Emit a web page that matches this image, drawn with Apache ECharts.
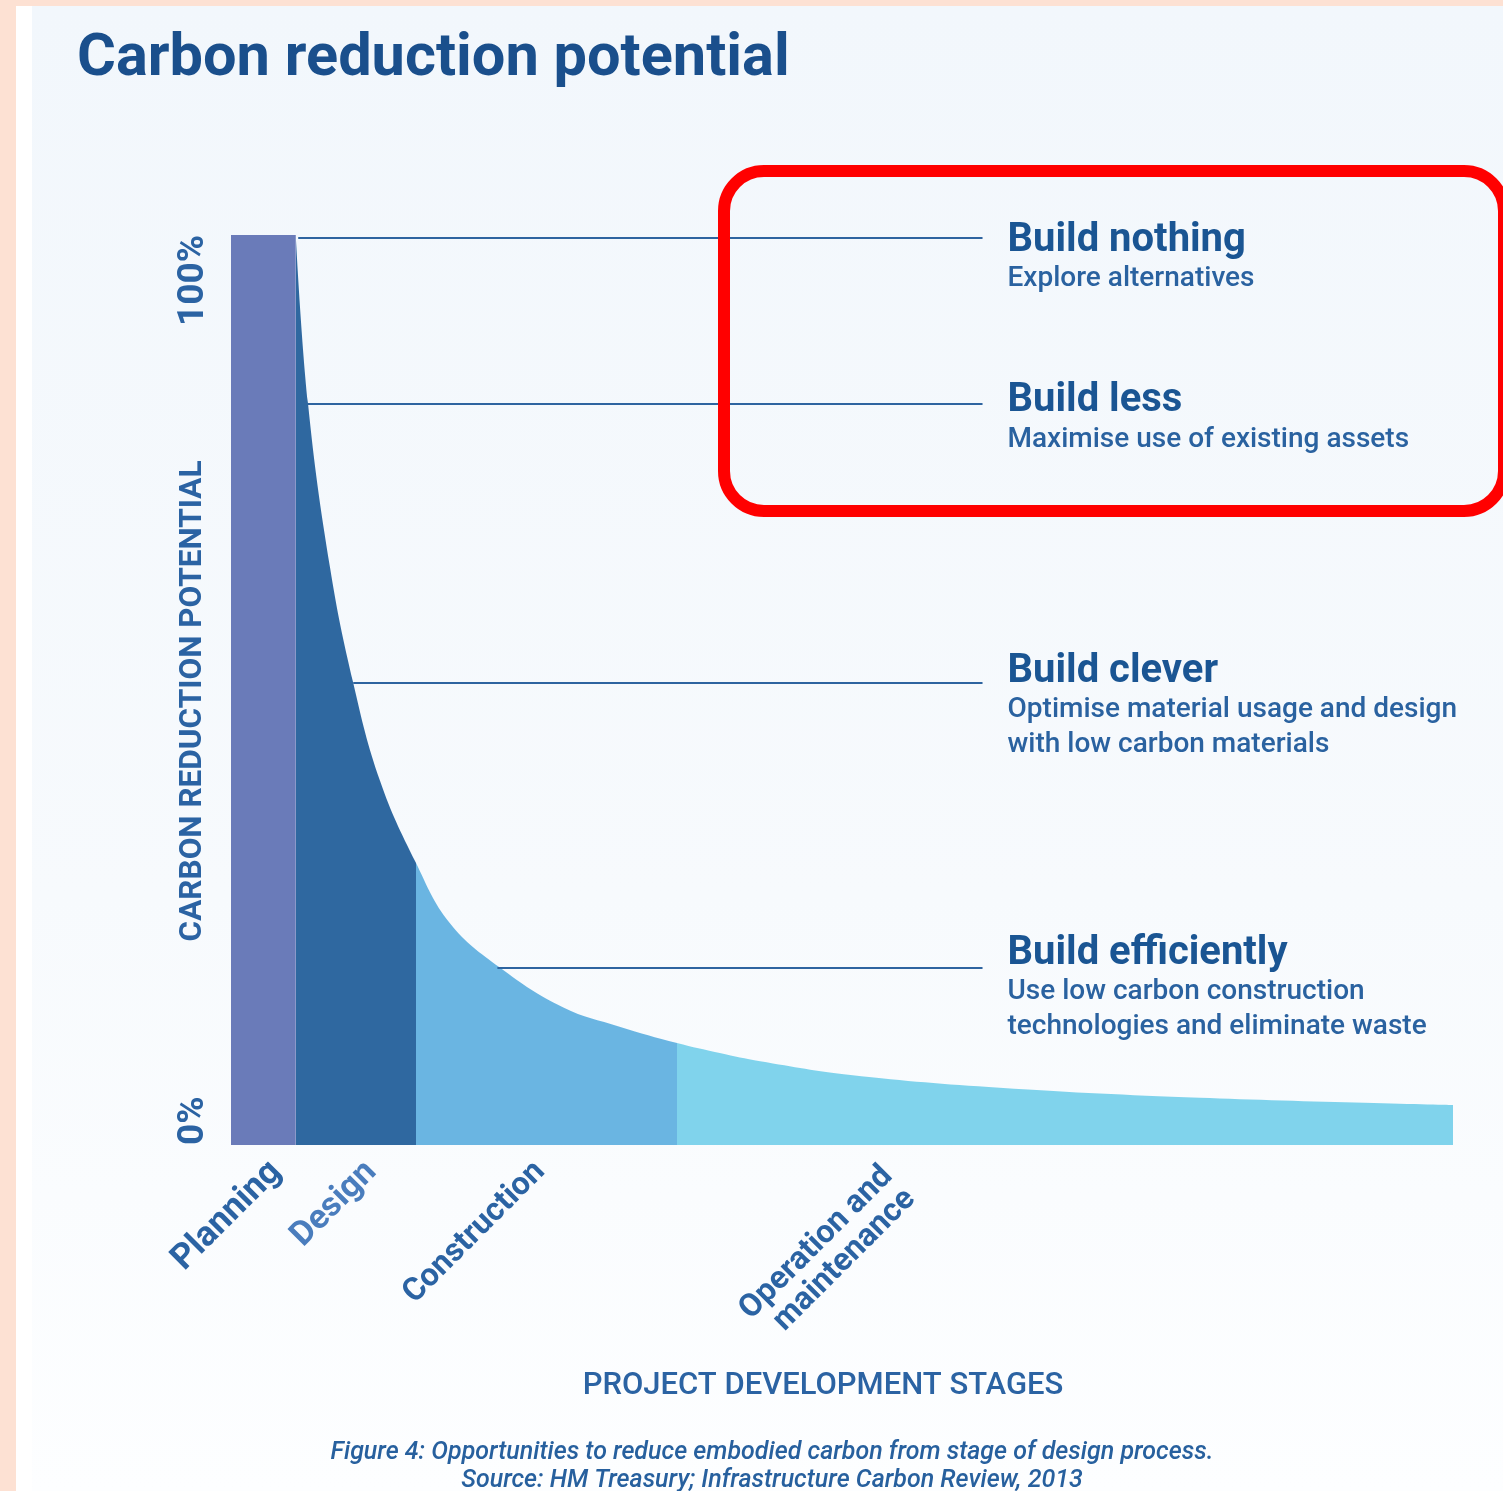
<!DOCTYPE html>
<html>
<head>
<meta charset="utf-8">
<script src="https://cdn.jsdelivr.net/npm/echarts@6/dist/echarts.min.js"></script>
<style>
html,body{margin:0;padding:0;width:1503px;height:1491px;overflow:hidden;background:#fde1d3;}
#white{position:absolute;left:16px;top:6px;right:0;bottom:0;background:#ffffff;}
#panel{position:absolute;left:32px;top:6px;right:0;bottom:0;background:linear-gradient(#f2f7fc,#f7fafd 60%,#fdfeff);}
#chart{position:absolute;left:0;top:0;width:1503px;height:1491px;}
</style>
</head>
<body>
<div id="white"></div>
<div id="panel"></div>
<div id="chart"></div>
<script>
// ---------- data (x: % of project timeline, y: % carbon reduction potential) ----------
const stages = ['Planning', 'Design', 'Construction', 'Operation and\nmaintenance'];
const stageStart = [0, 5.3, 15.1, 36.5];
const stageEnd = [5.3, 15.1, 36.5, 100];
const stageLabelAt = [3.7, 11.5, 25.3, 54.6];
const planning = [[0, 100], [5.3, 100]];
const design = [[5.3, 100], [6.3, 81.5], [8.1, 63.5], [10.0, 50.8], [12.2, 40.0], [15.1, 31.1]];
const construction = [[15.1, 31.1], [17.9, 24.4], [22.0, 19.5], [27.2, 15.1], [31.8, 13.0], [36.5, 11.2]];
const operation = [[36.5, 11.2], [40.0, 10.1], [43.3, 9.2], [50.7, 7.7], [62.9, 6.3], [79.3, 5.2], [100, 4.4]];
const yTickValues = [0, 100];
const annHeads = ['Build nothing', 'Build less', 'Build clever', 'Build efficiently'];
const annSubs = [
  ['Explore alternatives'],
  ['Maximise use of existing assets'],
  ['Optimise material usage and design', 'with low carbon materials'],
  ['Use low carbon construction', 'technologies and eliminate waste']
];
const annLevel = [99.7, 81.5, 50.8, 19.5];
const annFrom = [5.5, 6.3, 10.0, 21.8];
const annTo = [61.5, 61.5, 61.5, 61.5];

// ---------- layout / style ----------
const FONT = 'Roboto, "Noto Sans", sans-serif';
const BLUE = '#2b63a3';
const headOffsetY = [-18, -23, -32, -35];
const stageLabelPos = [[0, 22], [0, 22], [0, 22], [1, 38]];
const stageLabelSize = [35, 34, 32, 32];
const stageLabelColor = [BLUE, '#4a7dbd', BLUE, BLUE];
const stageColors = ['#6a7bb9', '#2f68a0', '#6ab5e2', '#80d3ec'];

const curve = design.concat(construction.slice(1), operation.slice(1));

const chart = echarts.init(document.getElementById('chart'), null, {renderer: 'canvas'});

const option = {
  animation: false,
  backgroundColor: 'transparent',
  textStyle: {fontFamily: FONT},
  title: [
    {text: 'Carbon reduction potential', left: 77, top: 30, padding: 0,
     textStyle: {fontSize: 59.5, fontWeight: 'bold', color: '#1a4f8c', fontFamily: FONT}},
    {text: 'PROJECT DEVELOPMENT STAGES', left: 823, textAlign: 'center', top: 1371, padding: 0,
     textStyle: {fontSize: 31, fontWeight: 500, color: BLUE, fontFamily: FONT}},
    {text: 'Figure 4: Opportunities to reduce embodied carbon from stage of design process.\nSource: HM Treasury; Infrastructure Carbon Review, 2013',
     left: 772, textAlign: 'center', top: 1439, padding: 0,
     textStyle: {fontSize: 25, fontStyle: 'italic', fontWeight: 500, color: '#27609e', lineHeight: 28, fontFamily: FONT}}
  ],
  grid: {left: 231, right: 50, top: 235, bottom: 346, containLabel: false},
  xAxis: {
    type: 'value', min: 0, max: 100,
    axisLine: {show: false}, axisTick: {show: false}, splitLine: {show: false},
    axisLabel: {show: false}
  },
  yAxis: {
    type: 'value', min: 0, max: 100, interval: 100,
    axisLine: {show: false}, axisTick: {show: false}, splitLine: {show: false},
    axisLabel: {
      formatter: function (v) { return yTickValues.indexOf(v) >= 0 ? v + '%' : ''; },
      rotate: 90, margin: 19, fontSize: 37, fontWeight: 'bold', color: BLUE,
      alignMinLabel: 'left', alignMaxLabel: 'right', fontFamily: FONT
    },
    name: 'CARBON REDUCTION POTENTIAL', nameLocation: 'middle', nameRotate: 90, nameGap: 22,
    nameMoveOverlap: false,
    nameTextStyle: {fontSize: 31.5, fontWeight: 'bold', color: BLUE, fontFamily: FONT, padding: [0, 22, 0, 0]}
  },
  visualMap: {
    type: 'piecewise', show: false, dimension: 0, seriesIndex: 1,
    pieces: [1, 2, 3].map(i => ({
      gte: stageStart[i], lt: i === 3 ? stageEnd[i] + 1 : stageEnd[i], color: stageColors[i]
    }))
  },
  series: [
    {
      name: 'Planning', type: 'line', data: planning, symbol: 'none', silent: true, z: 2,
      lineStyle: {width: 0, color: stageColors[0]}, itemStyle: {color: stageColors[0]},
      areaStyle: {color: stageColors[0], opacity: 1}
    },
    {
      name: 'Carbon reduction potential', type: 'line', data: curve, smooth: 0.4,
      symbol: 'none', silent: true, z: 2,
      lineStyle: {width: 0},
      areaStyle: {opacity: 1}
    },
    {
      name: 'annotations', type: 'scatter', symbolSize: 0, silent: true, z: 5,
      itemStyle: {opacity: 1},
      data: annHeads.map((h, i) => ({
        value: [annTo[i], annLevel[i]],
        label: {position: [25, headOffsetY[i]]}
      })),
      label: {
        show: true, align: 'left', verticalAlign: 'top',
        formatter: function (p) {
          const i = p.dataIndex;
          return '{h|' + annHeads[i] + '}\n' + annSubs[i].map(s => '{s|' + s + '}').join('\n');
        },
        rich: {
          h: {fontSize: 40, fontWeight: 'bold', color: '#1a5593', lineHeight: 42, fontFamily: FONT},
          s: {fontSize: 28, fontWeight: 500, color: '#2a62a0', lineHeight: 35, fontFamily: FONT}
        }
      },
      markLine: {
        silent: true, symbol: ['none', 'none'], animation: false,
        label: {show: false},
        lineStyle: {color: '#2e64a0', width: 2, type: 'solid'},
        data: annLevel.map((lv, i) => [{coord: [annFrom[i], lv]}, {coord: [annTo[i], lv]}])
      }
    },
    {
      name: 'stages', type: 'scatter', symbolSize: 0, silent: true, z: 5, clip: false,
      itemStyle: {opacity: 1},
      data: stages.map((s, i) => ({
        value: [stageLabelAt[i], 0],
        label: {position: stageLabelPos[i], color: stageLabelColor[i],
                fontSize: stageLabelSize[i], lineHeight: stageLabelSize[i]}
      })),
      label: {
        show: true, rotate: 45, align: 'right', verticalAlign: 'middle',
        fontWeight: 'bold', fontFamily: FONT,
        formatter: function (p) { return stages[p.dataIndex]; }
      }
    }
  ],
  graphic: [
    {type: 'rect', z: 100, silent: true,
     shape: {x: 724, y: 171, width: 780, height: 340, r: 40},
     style: {fill: 'none', stroke: '#ff0000', lineWidth: 12}}
  ]
};
chart.setOption(option);
</script>
</body>
</html>
